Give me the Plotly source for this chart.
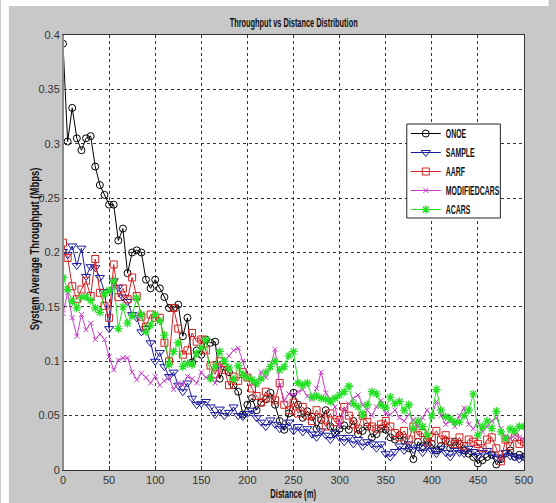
import plotly.graph_objects as go

distance = list(range(0, 505, 5))

onoe = [0.392,0.302,0.333,0.305,0.294,0.305,0.307,0.279,0.262,0.253,
        0.244,0.244,0.211,0.222,0.181,0.200,0.202,0.200,0.175,0.167,
        0.175,0.167,0.159,0.149,0.149,0.152,0.123,0.140,0.099,0.110,
        0.106,0.120,0.117,0.118,0.084,0.095,0.090,0.078,0.072,0.051,
        0.060,0.066,0.055,0.062,0.065,0.071,0.060,0.045,0.037,0.052,
        0.071,0.060,0.048,0.054,0.049,0.038,0.046,0.055,0.040,0.034,
        0.038,0.041,0.037,0.045,0.033,0.036,0.040,0.030,0.033,0.038,
        0.037,0.030,0.028,0.032,0.027,0.020,0.010,0.026,0.022,0.028,
        0.024,0.018,0.022,0.027,0.020,0.026,0.024,0.018,0.015,0.012,
        0.006,0.009,0.012,0.014,0.005,0.010,0.015,0.018,0.012,0.014,0.012]

sample = [0.201,0.198,0.206,0.188,0.204,0.178,0.187,0.186,0.177,0.164,
          0.130,0.174,0.168,0.159,0.155,0.143,0.140,0.127,0.130,0.117,
          0.100,0.108,0.095,0.086,0.090,0.078,0.072,0.080,0.066,0.060,
          0.061,0.063,0.058,0.051,0.056,0.050,0.053,0.058,0.050,0.049,
          0.052,0.055,0.048,0.044,0.040,0.046,0.042,0.038,0.040,0.044,
          0.036,0.040,0.035,0.038,0.033,0.030,0.036,0.032,0.028,0.034,
          0.030,0.026,0.030,0.024,0.028,0.022,0.026,0.024,0.020,0.024,
          0.015,0.012,0.017,0.022,0.018,0.024,0.019,0.021,0.016,0.022,
          0.018,0.015,0.020,0.016,0.012,0.018,0.016,0.015,0.020,0.017,
          0.013,0.016,0.018,0.014,0.012,0.011,0.016,0.013,0.012,0.010,0.012]

aarf = [0.209,0.195,0.169,0.157,0.166,0.174,0.160,0.194,0.163,0.151,
        0.140,0.189,0.159,0.167,0.157,0.177,0.160,0.141,0.132,0.143,
        0.140,0.140,0.117,0.100,0.149,0.130,0.106,0.110,0.126,0.118,
        0.120,0.110,0.096,0.088,0.100,0.092,0.078,0.086,0.082,0.090,
        0.085,0.075,0.068,0.062,0.072,0.066,0.064,0.080,0.060,0.055,
        0.062,0.052,0.058,0.050,0.045,0.055,0.048,0.040,0.052,0.044,
        0.046,0.058,0.050,0.042,0.038,0.050,0.044,0.040,0.038,0.042,
        0.045,0.040,0.034,0.030,0.036,0.028,0.040,0.032,0.034,0.026,
        0.030,0.036,0.028,0.032,0.026,0.024,0.030,0.022,0.028,0.026,
        0.024,0.020,0.028,0.030,0.020,0.008,0.028,0.022,0.030,0.024,0.026]

modifiedcars = [0.144,0.163,0.140,0.123,0.143,0.129,0.135,0.120,0.125,0.120,
                0.104,0.092,0.101,0.103,0.103,0.090,0.083,0.089,0.085,0.080,
                0.086,0.078,0.082,0.085,0.074,0.080,0.078,0.086,0.084,0.080,
                0.090,0.085,0.086,0.080,0.095,0.100,0.105,0.110,0.112,0.100,
                0.085,0.080,0.078,0.090,0.085,0.095,0.111,0.078,0.064,0.070,
                0.069,0.072,0.074,0.068,0.065,0.075,0.090,0.071,0.065,0.058,
                0.040,0.055,0.061,0.066,0.069,0.060,0.055,0.050,0.058,0.064,
                0.052,0.051,0.055,0.048,0.045,0.051,0.046,0.040,0.048,0.055,
                0.049,0.063,0.050,0.042,0.045,0.040,0.050,0.057,0.042,0.038,
                0.044,0.035,0.040,0.045,0.048,0.038,0.030,0.029,0.032,0.030,0.028]

acars = [0.177,0.166,0.155,0.149,0.159,0.159,0.156,0.149,0.145,0.162,
         0.165,0.174,0.130,0.150,0.135,0.142,0.158,0.143,0.127,0.133,
         0.143,0.137,0.124,0.097,0.109,0.117,0.095,0.098,0.097,0.107,
         0.112,0.120,0.084,0.095,0.109,0.100,0.094,0.083,0.096,0.088,
         0.085,0.083,0.080,0.084,0.090,0.095,0.100,0.092,0.095,0.105,
         0.109,0.080,0.078,0.080,0.067,0.068,0.066,0.065,0.063,0.066,
         0.069,0.072,0.077,0.061,0.058,0.051,0.060,0.072,0.070,0.060,
         0.057,0.067,0.061,0.063,0.055,0.060,0.038,0.045,0.040,0.032,
         0.050,0.074,0.055,0.049,0.047,0.044,0.044,0.050,0.055,0.070,
         0.032,0.040,0.045,0.038,0.054,0.035,0.029,0.038,0.036,0.040,0.040]

series_names = ["ONOE", "SAMPLE", "AARF", "MODIFIEDCARS", "ACARS"]
x_ticks = list(range(0, 550, 50))
y_ticks = [0, 0.05, 0.1, 0.15, 0.2, 0.25, 0.3, 0.35, 0.4]

styles = {
    "ONOE": dict(color="#000000", symbol="circle-open", size=7),
    "SAMPLE": dict(color="#1c1ca0", symbol="triangle-down-open", size=8),
    "AARF": dict(color="#d42020", symbol="square-open", size=7),
    "MODIFIEDCARS": dict(color="#c83cc8", symbol="x-thin-open", size=5),
    "ACARS": dict(color="#22e022", symbol="asterisk-open", size=7),
}

fig = go.Figure()
for name, ys in zip(series_names, [onoe, sample, aarf, modifiedcars, acars]):
    st = styles[name]
    fig.add_trace(go.Scatter(
        x=distance, y=ys, name=name, mode="lines+markers",
        line=dict(color=st["color"], width=1),
        marker=dict(symbol=st["symbol"], size=st["size"], color=st["color"],
                    line=dict(color=st["color"], width=1.3 if name == "ACARS" else 1)),
    ))

W, H = 556, 503
L, R, T, B = 63, 531, 35, 470
pw, ph = R - L, B - T

def px(xp):
    return (xp - L) / pw

def py(yp):
    return (B - yp) / ph

bold = "Liberation Sans, Arial, sans-serif"

shapes = []
for (x0, y0, x1, y1) in [(0, 0, 8, H), (0, 0, W, 6)]:
    shapes.append(dict(type="rect", xref="paper", yref="paper",
                       x0=px(x0), x1=px(x1), y0=py(y1), y1=py(y0),
                       fillcolor="white", line=dict(width=0), layer="above"))
# legend box
shapes.append(dict(type="rect", xref="paper", yref="paper",
                   x0=px(412), x1=px(507), y0=py(218), y1=py(124),
                   fillcolor="white", line=dict(color="#222", width=1), layer="above"))
# MATLAB-like grey left axis edge
shapes.append(dict(type="line", xref="paper", yref="paper",
                   x0=0, x1=0, y0=0, y1=1,
                   line=dict(color="#8a8a8a", width=2), layer="above"))

fig.update_layout(
    width=W, height=H,
    margin=dict(l=L, r=W - R, t=T, b=H - B),
    paper_bgcolor="#c8c8c8", plot_bgcolor="white",
    showlegend=True,
    legend=dict(x=px(411), y=py(119), xanchor="left", yanchor="top",
                bgcolor="rgba(0,0,0,0)", borderwidth=0,
                font=dict(family=bold, size=12, color="#111", weight="bold"),
                tracegroupgap=0, itemwidth=30),
    shapes=shapes,
    annotations=[
        dict(text="<b>Throughput vs Distance Distribution</b>", xref="paper", yref="paper",
             x=px(297), y=py(22), xanchor="center", yanchor="middle", showarrow=False,
             font=dict(family=bold, size=13, color="#111")),
        dict(text="<b>Distance (m)</b>", xref="paper", yref="paper",
             x=px(296), y=py(493), xanchor="center", yanchor="middle", showarrow=False,
             font=dict(family=bold, size=13, color="#111")),
        dict(text="<b>System Average Throughput (Mbps)</b>", xref="paper", yref="paper",
             x=px(34), y=py(249), xanchor="center", yanchor="middle", showarrow=False,
             textangle=-90, font=dict(family=bold, size=13, color="#111")),
    ],
    font=dict(family="Liberation Sans, Arial, sans-serif", size=11, color="#333"),
)

fig.update_xaxes(range=[0, 500], tickvals=x_ticks, showgrid=True,
                 gridcolor="#333", griddash="dot", gridwidth=1,
                 showline=True, linecolor="#333", linewidth=1, mirror=True,
                 ticks="inside", ticklen=4, tickcolor="#333", zeroline=False)
fig.update_yaxes(range=[0, 0.4], tickvals=y_ticks, showgrid=True,
                 gridcolor="#333", griddash="dot", gridwidth=1,
                 showline=True, linecolor="#333", linewidth=1, mirror=True,
                 ticks="inside", ticklen=4, tickcolor="#333", zeroline=False)

post = """
var gd = document.getElementById('{plot_id}');
function fit(){
  var targets = [128, 46, 163];
  var anns = gd.querySelectorAll('text.annotation-text');
  anns.forEach(function(t, i){
    var w = t.getBBox().width;
    if (!w || i >= targets.length) return;
    var s = targets[i] / w;
    t.style.transformBox = 'fill-box';
    t.style.transformOrigin = 'center';
    t.style.transform = 'scaleX(' + s + ')';
  });
  var legs = gd.querySelectorAll('text.legendtext');
  var maxw = 0;
  legs.forEach(function(t){ maxw = Math.max(maxw, t.getBBox().width); });
  if (!maxw) return;
  var s2 = 54 / maxw;
  legs.forEach(function(t){
    t.style.transformBox = 'fill-box';
    t.style.transformOrigin = 'left center';
    t.style.transform = 'scaleX(' + s2 + ')';
  });
}
fit();
gd.on('plotly_afterplot', fit);
setTimeout(fit, 50);
"""

fig.write_html("out.html", post_script=post)
